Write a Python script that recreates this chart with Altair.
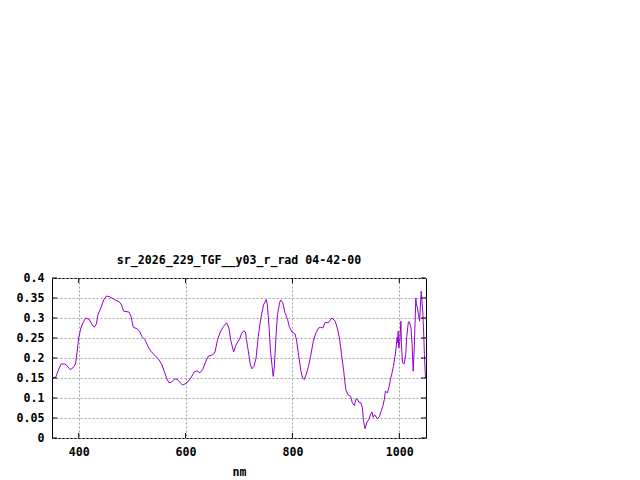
import altair as alt
import pandas as pd

wavelength = [350, 357, 362, 367, 374, 378, 384, 389, 394, 397, 400, 404, 408, 413, 420, 425, 429, 433, 436, 442,
              447, 452, 458, 467, 476, 480, 484, 494, 498, 502, 509, 514, 518, 524, 530, 535, 541, 549, 555, 560,
              565, 569, 574, 580, 585, 590, 594, 599, 604, 610, 616, 621, 627, 632, 638, 643, 651, 655, 660, 665,
              671, 677, 681, 685, 690, 694, 701, 705, 709, 712, 714, 717, 721, 724, 728, 732, 736, 741, 746, 751,
              753, 756, 759, 762, 764, 766, 769, 772, 776, 778, 782, 786, 791, 794, 799, 805, 808, 811, 816, 819,
              822, 826, 830, 834, 839, 844, 849, 853, 857, 861, 867, 874, 880, 884, 888, 892, 896, 898, 900, 904,
              909, 912, 916, 919, 922, 925, 928, 931, 933, 936, 939, 943, 946, 949, 951, 954, 959, 963, 966, 969,
              972, 974, 978, 981, 984, 986, 989, 992, 994, 996, 997, 998, 999, 1001, 1003, 1004, 1006, 1009, 1012, 1014,
              1017, 1019, 1022, 1024, 1026, 1028, 1031, 1032, 1034, 1036, 1038, 1041, 1042, 1044, 1046, 1047, 1049]
radiance = [0.150, 0.152, 0.170, 0.185, 0.185, 0.181, 0.171, 0.175, 0.185, 0.215, 0.250, 0.275, 0.288, 0.300, 0.296, 0.283, 0.277, 0.285, 0.308, 0.327,
            0.346, 0.355, 0.353, 0.346, 0.340, 0.333, 0.317, 0.315, 0.304, 0.277, 0.273, 0.267, 0.254, 0.246, 0.228, 0.217, 0.208, 0.198, 0.185, 0.167,
            0.148, 0.138, 0.140, 0.148, 0.146, 0.138, 0.133, 0.135, 0.140, 0.150, 0.165, 0.168, 0.163, 0.171, 0.192, 0.205, 0.208, 0.215, 0.246, 0.265,
            0.279, 0.288, 0.275, 0.242, 0.215, 0.232, 0.247, 0.262, 0.268, 0.265, 0.246, 0.221, 0.185, 0.173, 0.179, 0.200, 0.254, 0.300, 0.333, 0.346,
            0.333, 0.283, 0.217, 0.179, 0.154, 0.175, 0.250, 0.308, 0.338, 0.345, 0.338, 0.313, 0.296, 0.279, 0.265, 0.260, 0.242, 0.213, 0.167, 0.150,
            0.146, 0.160, 0.179, 0.204, 0.242, 0.263, 0.275, 0.277, 0.275, 0.289, 0.288, 0.300, 0.292, 0.275, 0.250, 0.208, 0.167, 0.142, 0.121, 0.108,
            0.104, 0.088, 0.081, 0.098, 0.096, 0.088, 0.089, 0.075, 0.043, 0.023, 0.038, 0.046, 0.058, 0.065, 0.052, 0.058, 0.048, 0.054, 0.067, 0.079,
            0.096, 0.117, 0.113, 0.129, 0.150, 0.160, 0.179, 0.204, 0.225, 0.252, 0.238, 0.267, 0.225, 0.242, 0.292, 0.233, 0.188, 0.185, 0.208, 0.254,
            0.290, 0.290, 0.275, 0.233, 0.167, 0.225, 0.350, 0.335, 0.325, 0.308, 0.292, 0.367, 0.350, 0.317, 0.250, 0.208, 0.150]

x_ticks = [400, 600, 800, 1000]
y_ticks = [0, 0.05, 0.1, 0.15, 0.2, 0.25, 0.3, 0.35, 0.4]

FONT = "DejaVu Sans Mono"
FS = 11.6
W, H = 374, 160
TL = 5

df = pd.DataFrame({"nm": wavelength, "rad": radiance})
xt = pd.DataFrame({"nm": x_ticks})
yt = pd.DataFrame({"rad": y_ticks})

xscale = alt.Scale(domain=[350, 1050], nice=False, zero=False)
yscale = alt.Scale(domain=[0, 0.4], nice=False, zero=True)

xaxis = alt.Axis(values=x_ticks, format="d", grid=True, gridColor="#a0a0a0", gridDash=[2, 2],
                 gridOpacity=1, ticks=False, domain=False, labelPadding=17,
                 labelOverlap=False, labelFlush=False,
                 labelBaseline="alphabetic", labelFont=FONT, labelFontSize=FS,
                 labelFontWeight="bold", labelColor="black", titleFont=FONT,
                 titleFontSize=FS, titleFontWeight="bold", titleColor="black",
                 titleBaseline="alphabetic", titleY=37)
yaxis = alt.Axis(values=y_ticks, format="~g", grid=True, gridColor="#a0a0a0",
                 gridDash=[2, 2], gridOpacity=1, ticks=False, domain=False,
                 labelOverlap=False, labelFlush=False,
                 labelPadding=8, labelFont=FONT, labelFontSize=FS,
                 labelFontWeight="bold", labelColor="black")

X = lambda: alt.X("nm:Q", scale=xscale, title="nm", axis=xaxis)
Y = lambda: alt.Y("rad:Q", scale=yscale, title=None, axis=yaxis)

line = alt.Chart(df).mark_line(color="#9400d3", strokeWidth=1, clip=True).encode(x=X(), y=Y())

xb = alt.Chart(xt).mark_rule(color="black", strokeWidth=1).encode(
    x=X(), y=alt.value(H - TL), y2=alt.value(H))
xtop = alt.Chart(xt).mark_rule(color="black", strokeWidth=1).encode(
    x=X(), y=alt.value(0), y2=alt.value(TL))
yl = alt.Chart(yt).mark_rule(color="black", strokeWidth=1).encode(
    y=Y(), x=alt.value(0), x2=alt.value(TL))
yr = alt.Chart(yt).mark_rule(color="black", strokeWidth=1).encode(
    y=Y(), x=alt.value(W - TL), x2=alt.value(W))

chart = alt.layer(line, xb, xtop, yl, yr).properties(
    width=W, height=H,
    title=alt.TitleParams("sr_2026_229_TGF__y03_r_rad 04-42-00", font=FONT, fontSize=FS,
                          fontWeight="bold", color="black", anchor="middle", frame="group",
                          baseline="alphabetic", offset=-4),
    padding={"left": 44, "top": 270, "right": 20, "bottom": 40},
    autosize=alt.AutoSizeParams(type="none"),
    background="white",
).configure_view(stroke="black", strokeWidth=1)

chart.save("out.html", embed_options={"renderer": "svg", "actions": False})
